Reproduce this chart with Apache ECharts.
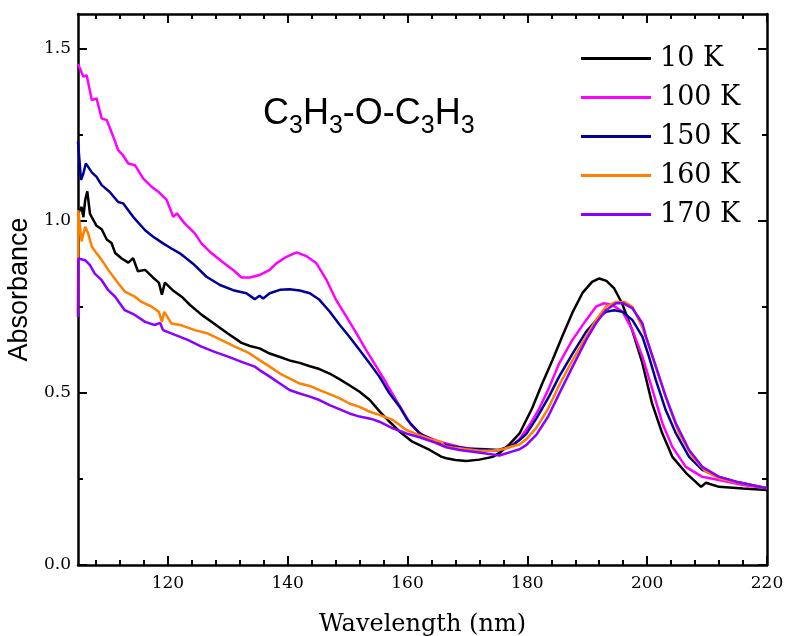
<!DOCTYPE html>
<html><head><meta charset="utf-8">
<script src="https://cdn.jsdelivr.net/npm/echarts@6/dist/echarts.min.js"></script>
<style>html,body{margin:0;padding:0;background:#fff}#c{width:788px;height:636px}</style>
</head><body><div id="c"></div>
<script>
const seriesNames = ['10 K', '100 K', '150 K', '160 K', '170 K'];
const seriesColors = ['#000000', '#ff00ff', '#000099', '#ff8000', '#8b00ff'];

const wl10 = [105.0,105.6,105.9,106.2,106.55,107.0,107.3,108.1,108.95,109.8,110.6,111.2,112.3,113.4,114.2,115.0,116.2,117.5,118.5,119.0,119.5,120.8,122.3,123.7,125.6,127.8,130.0,132.3,133.7,135.3,137.0,138.7,140.3,142.0,143.7,145.3,147.0,148.7,150.3,152.0,153.7,155.3,156.7,158.7,160.8,163.7,165.7,166.5,168.0,169.8,172.0,174.2,175.5,177.0,178.7,180.8,182.5,184.2,185.8,187.5,189.2,190.8,192.0,193.2,194.5,195.8,197.5,199.2,200.8,202.5,204.2,206.5,209.0,209.8,212.0,216.0,220.0];
const abs10 = [1.02,1.04,1.01,1.06,1.085,1.02,1.01,0.985,0.975,0.945,0.935,0.906,0.89,0.878,0.891,0.853,0.857,0.835,0.82,0.785,0.82,0.798,0.779,0.755,0.727,0.700,0.672,0.645,0.636,0.629,0.614,0.604,0.594,0.587,0.577,0.569,0.556,0.539,0.522,0.503,0.479,0.447,0.421,0.387,0.358,0.334,0.314,0.310,0.305,0.302,0.306,0.314,0.327,0.350,0.382,0.455,0.528,0.595,0.663,0.732,0.790,0.822,0.832,0.825,0.803,0.760,0.682,0.586,0.470,0.383,0.314,0.267,0.227,0.239,0.227,0.222,0.218];

const wl100 = [105.0,105.9,106.45,107.3,108.1,108.95,109.8,110.9,111.7,112.5,113.4,114.5,115.9,117.3,118.4,119.8,120.9,121.5,122.8,124.5,125.6,127.3,129.4,131.0,132.3,133.7,135.3,137.0,138.1,139.8,141.5,143.1,144.8,146.5,148.1,149.8,151.5,153.1,154.8,156.5,158.1,159.8,160.6,162.5,165.3,168.7,172.0,174.8,177.0,178.7,180.5,182.0,183.5,185.3,187.5,189.8,191.45,192.8,194.2,195.9,197.55,199.2,200.9,202.55,204.2,206.45,209.2,212.0,216.0,220.0];
const abs100 = [1.455,1.418,1.422,1.350,1.355,1.297,1.292,1.243,1.205,1.19,1.166,1.161,1.122,1.098,1.084,1.060,1.011,1.021,0.992,0.963,0.934,0.905,0.876,0.855,0.835,0.835,0.842,0.857,0.876,0.895,0.908,0.897,0.876,0.827,0.769,0.721,0.672,0.624,0.576,0.527,0.479,0.430,0.406,0.377,0.358,0.343,0.334,0.332,0.342,0.365,0.41,0.455,0.51,0.585,0.653,0.711,0.750,0.760,0.755,0.735,0.682,0.605,0.508,0.411,0.343,0.285,0.256,0.247,0.232,0.223];

const wl150 = [105.0,105.5,105.9,106.3,106.7,107.3,108.1,108.95,110.3,111.7,112.55,114.2,116.2,117.55,119.2,120.6,122.0,124.2,126.45,128.7,130.9,133.1,134.5,135.3,135.9,137.0,138.7,140.3,142.0,143.7,145.3,147.0,148.7,150.3,152.0,153.7,155.3,157.0,158.7,160.0,162.0,164.2,166.45,169.8,173.1,175.3,177.55,178.7,179.8,181.5,183.7,185.3,187.55,189.8,192.0,193.1,194.5,195.9,197.55,199.2,200.3,201.45,203.1,204.8,207.0,209.2,212.0,214.8,220.0];
const abs150 = [1.23,1.118,1.137,1.166,1.156,1.14,1.127,1.103,1.083,1.054,1.050,1.011,0.972,0.953,0.934,0.919,0.905,0.875,0.837,0.813,0.798,0.789,0.772,0.782,0.774,0.789,0.799,0.801,0.797,0.789,0.770,0.736,0.697,0.663,0.624,0.585,0.547,0.498,0.459,0.421,0.382,0.363,0.348,0.338,0.336,0.334,0.348,0.363,0.380,0.425,0.492,0.547,0.614,0.677,0.721,0.735,0.740,0.735,0.711,0.663,0.605,0.537,0.450,0.382,0.314,0.276,0.256,0.242,0.223];

const wl160 = [105.0,105.05,105.6,106.2,106.7,107.3,108.1,108.95,110.05,111.7,112.8,114.5,115.6,117.3,118.5,119.0,119.4,120.6,122.3,124.5,126.7,128.95,131.2,133.4,135.3,137.0,138.7,140.3,142.0,143.7,145.3,147.0,148.7,150.3,152.0,153.7,155.3,157.55,159.8,162.0,164.2,165.6,166.2,167.55,169.8,172.0,174.2,175.9,177.55,178.7,179.8,181.5,183.5,185.3,187.55,189.8,191.45,193.1,194.8,196.2,197.55,199.2,200.33,202.0,203.67,205.33,207.55,209.8,212.0,214.8,220.0];
const abs160 = [0.73,1.03,0.94,0.982,0.963,0.924,0.905,0.886,0.857,0.818,0.794,0.779,0.764,0.750,0.735,0.706,0.735,0.701,0.696,0.682,0.672,0.653,0.634,0.617,0.595,0.576,0.556,0.542,0.527,0.520,0.508,0.496,0.484,0.469,0.459,0.445,0.436,0.421,0.392,0.377,0.363,0.358,0.345,0.341,0.336,0.332,0.332,0.336,0.345,0.350,0.365,0.398,0.455,0.522,0.595,0.663,0.711,0.750,0.764,0.764,0.750,0.69,0.634,0.547,0.459,0.382,0.314,0.271,0.252,0.240,0.223];

const wl170 = [105.0,105.05,106.2,107.0,107.8,108.95,110.05,111.2,112.8,114.5,116.2,117.8,118.7,119.2,121.2,123.4,125.6,127.8,130.05,132.3,134.5,135.3,137.0,138.7,140.3,142.0,143.7,145.3,147.0,148.7,150.3,152.0,154.2,155.3,157.55,159.8,162.0,164.2,166.45,168.67,170.9,173.1,175.33,177.55,178.7,179.8,181.5,183.5,185.3,187.55,189.8,191.45,193.1,194.8,195.9,197.55,199.2,199.8,201.45,203.1,204.8,207.0,209.2,212.0,214.8,220.0];
const abs170 = [0.72,0.890,0.885,0.871,0.846,0.827,0.798,0.779,0.740,0.726,0.706,0.697,0.703,0.682,0.668,0.653,0.634,0.619,0.605,0.590,0.576,0.566,0.547,0.527,0.508,0.498,0.489,0.479,0.464,0.452,0.440,0.431,0.423,0.416,0.397,0.382,0.371,0.358,0.342,0.334,0.329,0.324,0.318,0.330,0.336,0.348,0.378,0.432,0.497,0.576,0.653,0.702,0.740,0.760,0.761,0.745,0.702,0.663,0.576,0.489,0.411,0.334,0.285,0.256,0.242,0.223];

const xMajorTicks = [120, 140, 160, 180, 200, 220];
const xMinorTicks = [108, 112, 116, 124, 128, 132, 136, 144, 148, 152, 156, 164, 168, 172, 176, 184, 188, 192, 196, 204, 208, 212, 216];
const yMajorTicks = [0, 0.5, 1.0, 1.5];
const yMinorTicks = [0.25, 0.75, 1.25];

const X_MIN = 105, X_MAX = 220, Y_MIN = 0, Y_MAX = 1.6;

const allWl = [wl10, wl100, wl150, wl160, wl170];
const allAbs = [abs10, abs100, abs150, abs160, abs170];

const chart = echarts.init(document.getElementById('c'), null, {renderer: 'canvas'});
const tickFont = 'DejaVu Serif';

function xAxisDef(position, ticks, len, showLine, showLabel, name) {
  return {
    type: 'value', position: position, min: X_MIN, max: X_MAX,
    splitLine: {show: false},
    axisLine: {show: showLine, onZero: false, lineStyle: {color: '#000', width: 2.5}},
    axisTick: {show: true, inside: true, length: len, customValues: ticks, lineStyle: {color: '#000', width: 2}},
    axisLabel: showLabel ? {show: true, customValues: ticks, margin: 10, color: '#000', fontFamily: tickFont, fontSize: 17} : {show: false},
    name: name || '', nameLocation: 'middle', nameGap: 48,
    nameTextStyle: {fontFamily: 'DejaVu Serif', fontSize: 24, color: '#000'}
  };
}
function yAxisDef(position, ticks, len, showLine, showLabel, name) {
  return {
    type: 'value', position: position, min: Y_MIN, max: Y_MAX,
    splitLine: {show: false},
    axisLine: {show: showLine, onZero: false, lineStyle: {color: '#000', width: 2.5}},
    axisTick: {show: true, inside: true, length: len, customValues: ticks, lineStyle: {color: '#000', width: 2}},
    axisLabel: showLabel ? {show: true, customValues: ticks, margin: 7, color: '#000', fontFamily: tickFont, fontSize: 17,
      formatter: function (v) { return v.toFixed(1); }} : {show: false},
    name: name || '', nameLocation: 'middle', nameGap: 42,
    nameTextStyle: {fontFamily: 'Liberation Sans', fontSize: 27, color: '#000'}
  };
}

const series = seriesNames.map(function (n, i) {
  return {
    name: n, type: 'line', xAxisIndex: 0, yAxisIndex: 0,
    showSymbol: false, symbol: 'none', smooth: false,
    lineStyle: {color: seriesColors[i], width: 2.5},
    itemStyle: {color: seriesColors[i]},
    emphasis: {disabled: true},
    data: allWl[i].map(function (x, j) { return [x, allAbs[i][j]]; })
  };
});

chart.setOption({
  animation: false,
  backgroundColor: '#fff',
  grid: {left: 78, right: 21, top: 14, bottom: 71, containLabel: false, outerBoundsMode: 'none'},
  xAxis: [
    xAxisDef('bottom', xMajorTicks, 9, true, true, 'Wavelength (nm)'),
    xAxisDef('bottom', xMinorTicks, 5, false, false),
    xAxisDef('top', xMajorTicks, 9, true, false),
    xAxisDef('top', xMinorTicks, 5, false, false)
  ],
  yAxis: [
    yAxisDef('left', yMajorTicks, 9, true, true, 'Absorbance'),
    yAxisDef('left', yMinorTicks, 5, false, false),
    yAxisDef('right', yMajorTicks, 9, true, false),
    yAxisDef('right', yMinorTicks, 5, false, false)
  ],
  legend: {
    orient: 'vertical', left: 581, top: 39, itemWidth: 70, itemHeight: 3, itemGap: 0,
    icon: 'rect', selectedMode: false, padding: 0,
    textStyle: {fontFamily: 'DejaVu Serif', fontSize: 27, color: '#000', lineHeight: 39, padding: [0, 0, 0, 4]},
    data: seriesNames
  },
  graphic: [{
    type: 'text', left: 263, top: 90,
    style: {
      text: 'C{s|3}H{s|3}-O-C{s|3}H{s|3}',
      fontFamily: 'Liberation Sans', fontSize: 36, fill: '#000',
      rich: {s: {fontFamily: 'Liberation Sans', fontSize: 25, lineHeight: 25, padding: [24, 0, 0, 0]}}
    }
  }],
  series: series
});
</script>
</body></html>
